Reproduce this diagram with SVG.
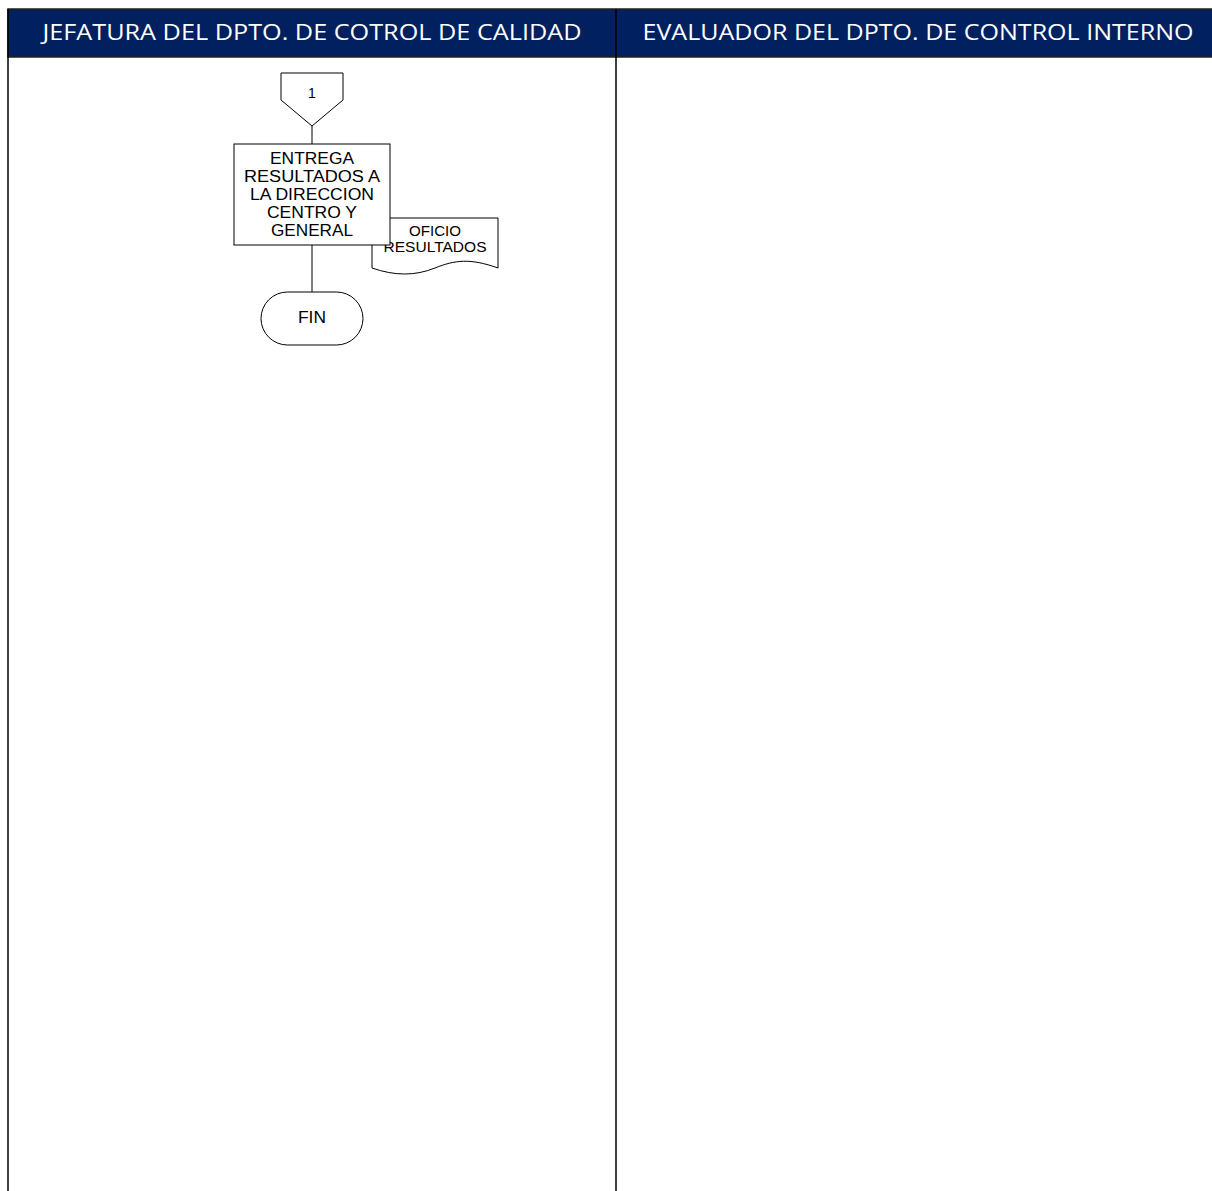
<svg xmlns="http://www.w3.org/2000/svg" width="1212" height="1191" viewBox="0 0 1212 1191">
<style>
.hdr{font-family:"Open Sans","Liberation Sans",sans-serif;font-size:21px;fill:#ffffff;text-anchor:middle}
.lbl{font-family:"Liberation Sans",Arial,sans-serif;font-size:16px;fill:#000;text-anchor:middle}
.sm{font-family:"Liberation Sans",Arial,sans-serif;font-size:14px;fill:#000;text-anchor:middle}
.shape{fill:#fff;stroke:#000;stroke-width:1}
.conn{stroke:#000;stroke-width:1;fill:none}
</style>
<rect width="1212" height="1191" fill="#fff"/>
<g id="lanes">
<rect x="8" y="9" width="1206" height="48" fill="#002060" stroke="#222" stroke-width="1.5"/>
<line x1="8" y1="9" x2="8" y2="1191" stroke="#000" stroke-width="1.5"/>
<line x1="616" y1="9" x2="616" y2="1191" stroke="#000" stroke-width="1.5"/>
<text class="hdr" x="312" y="40" textLength="539" lengthAdjust="spacingAndGlyphs">JEFATURA DEL DPTO. DE COTROL DE CALIDAD</text>
<text class="hdr" x="918" y="40" textLength="551" lengthAdjust="spacingAndGlyphs">EVALUADOR DEL DPTO. DE CONTROL INTERNO</text>
</g>
<g id="connectors">
<line class="conn" x1="312" y1="126" x2="312" y2="144"/>
<line class="conn" x1="312" y1="245" x2="312" y2="292"/>
</g>
<g id="node-connector1">
<polygon class="shape" points="281,73 343,73 343,100 312,126 281,100"/>
<text class="sm" x="312" y="98">1</text>
</g>
<g id="node-oficio">
<path class="shape" d="M372,218 L498,218 L498,268 C470,258 455,260 435,268 C415,276 395,276 372,268 Z"/>
<text class="sm" x="435" y="236" textLength="52" lengthAdjust="spacingAndGlyphs">OFICIO</text>
<text class="sm" x="435" y="252" textLength="103" lengthAdjust="spacingAndGlyphs">RESULTADOS</text>
</g>
<g id="node-entrega">
<rect class="shape" x="234" y="144" width="156" height="101"/>
<text class="lbl" x="312" y="164" textLength="84" lengthAdjust="spacingAndGlyphs">ENTREGA</text>
<text class="lbl" x="312" y="182" textLength="136" lengthAdjust="spacingAndGlyphs">RESULTADOS A</text>
<text class="lbl" x="312" y="200" textLength="124" lengthAdjust="spacingAndGlyphs">LA DIRECCION</text>
<text class="lbl" x="312" y="218" textLength="90" lengthAdjust="spacingAndGlyphs">CENTRO Y</text>
<text class="lbl" x="312" y="236" textLength="82" lengthAdjust="spacingAndGlyphs">GENERAL</text>
</g>
<g id="node-fin">
<rect class="shape" x="261" y="292" width="102" height="53" rx="26.5" ry="26.5"/>
<text class="lbl" x="312" y="323" textLength="28" lengthAdjust="spacingAndGlyphs">FIN</text>
</g>
</svg>
